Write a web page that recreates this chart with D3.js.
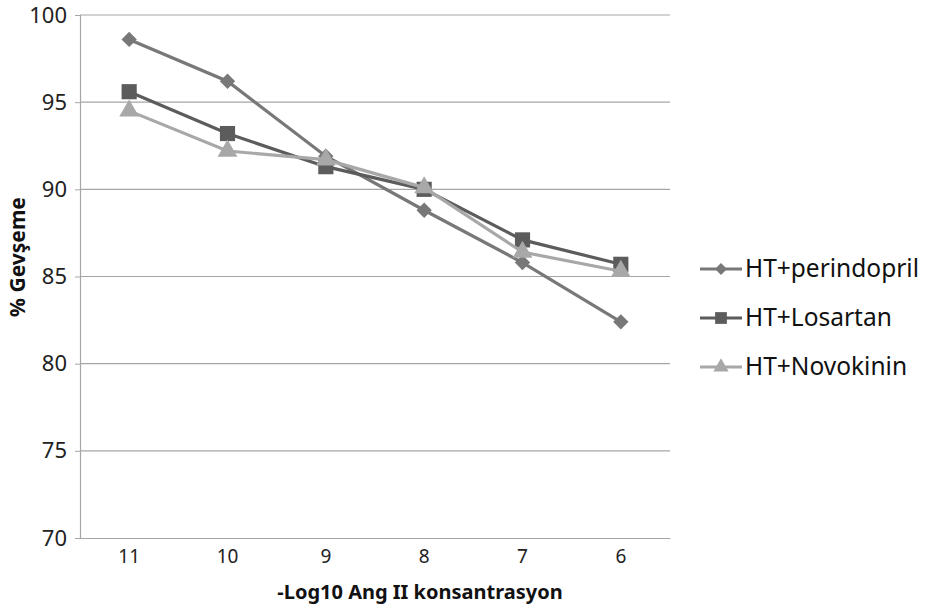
<!DOCTYPE html>
<html>
<head>
<meta charset="utf-8">
<script src="https://cdn.jsdelivr.net/npm/d3@7"></script>
<style>
  body { margin: 0; background: #fff; }
  svg text { font-family: "Noto Sans", "Open Sans", sans-serif; }
</style>
</head>
<body>
<svg id="chart" width="927" height="610"></svg>
<script>
const categories = ['11', '10', '9', '8', '7', '6']
const yTicks = [70, 75, 80, 85, 90, 95, 100]
const perindopril = [98.6, 96.2, 91.9, 88.8, 85.8, 82.4]
const losartan = [95.6, 93.2, 91.3, 90.0, 87.1, 85.7]
const novokinin = [94.5, 92.2, 91.7, 90.1, 86.4, 85.3]

const series = [
  { name: 'HT+perindopril', values: perindopril, color: '#787878', shape: d3.symbolDiamond2, size: 150 },
  { name: 'HT+Losartan', values: losartan, color: '#5c5c5c', shape: d3.symbolSquare, size: 230 },
  { name: 'HT+Novokinin', values: novokinin, color: '#a8a8a8', shape: d3.symbolTriangle, size: 170 }
]

const margin = { left: 80, top: 15, right: 257, bottom: 72 }
const width = 927, height = 610
const svg = d3.select('#chart')
const g = svg.append('g').attr('transform', `translate(${margin.left}, ${margin.top})`)
const w = width - margin.left - margin.right
const h = height - margin.top - margin.bottom

const x = d3.scaleBand().domain(categories).range([0, w])
const y = d3.scaleLinear().domain([70, 100]).range([h, 0])

// gridlines
g.selectAll('.grid').data(yTicks.slice(1)).join('line')
  .attr('x1', 0).attr('x2', w)
  .attr('y1', d => y(d)).attr('y2', d => y(d))
  .attr('stroke', '#a6a6a6').attr('stroke-width', 1.2)

// y axis
const yAxis = g.append('g').call(d3.axisLeft(y).tickValues(yTicks).tickSize(5).tickPadding(8))
yAxis.select('.domain').attr('stroke', '#a6a6a6').attr('stroke-width', 1.2)
yAxis.selectAll('.tick line').attr('stroke', '#a6a6a6')
yAxis.selectAll('text').attr('font-size', 22).attr('fill', '#222')

// x axis
const xAxis = g.append('g').attr('transform', `translate(0, ${h})`)
  .call(d3.axisBottom(x).tickSize(0).tickPadding(12))
xAxis.select('.domain').attr('stroke', '#a6a6a6').attr('stroke-width', 1.2)
xAxis.selectAll('text').attr('font-size', 19).attr('fill', '#222')

// axis titles
svg.append('text').attr('x', 420).attr('y', 599).attr('text-anchor', 'middle')
  .attr('font-size', 20).attr('font-weight', 'bold').attr('fill', '#111')
  .text('-Log10 Ang II konsantrasyon')
svg.append('text').attr('transform', 'translate(25, 257) rotate(-90)').attr('text-anchor', 'middle')
  .attr('font-size', 21).attr('font-weight', 'bold').attr('fill', '#111')
  .text('% Gevşeme')

const line = d3.line().x((d, i) => x(categories[i]) + x.bandwidth() / 2).y(d => y(d))

series.forEach(s => {
  g.append('path').datum(s.values).attr('d', line)
    .attr('fill', 'none').attr('stroke', s.color).attr('stroke-width', 3.2)
  g.selectAll(null).data(s.values).join('path')
    .attr('d', d3.symbol().type(s.shape).size(s.size))
    .attr('transform', (d, i) => `translate(${x(categories[i]) + x.bandwidth() / 2}, ${y(d)})`)
    .attr('fill', s.color)
})

// legend
const legend = svg.append('g').attr('transform', 'translate(700, 269)')
series.forEach((s, i) => {
  const row = legend.append('g').attr('transform', `translate(0, ${i * 49})`)
  row.append('line').attr('x1', 0).attr('x2', 42).attr('y1', 0).attr('y2', 0)
    .attr('stroke', s.color).attr('stroke-width', 3.2)
  row.append('path').attr('d', d3.symbol().type(s.shape).size(s.size * 0.6))
    .attr('transform', 'translate(21, 0)').attr('fill', s.color)
  row.append('text').attr('x', 45).attr('y', 8).attr('font-size', 24.5).attr('fill', '#111')
    .text(s.name)
})
</script>
</body>
</html>
